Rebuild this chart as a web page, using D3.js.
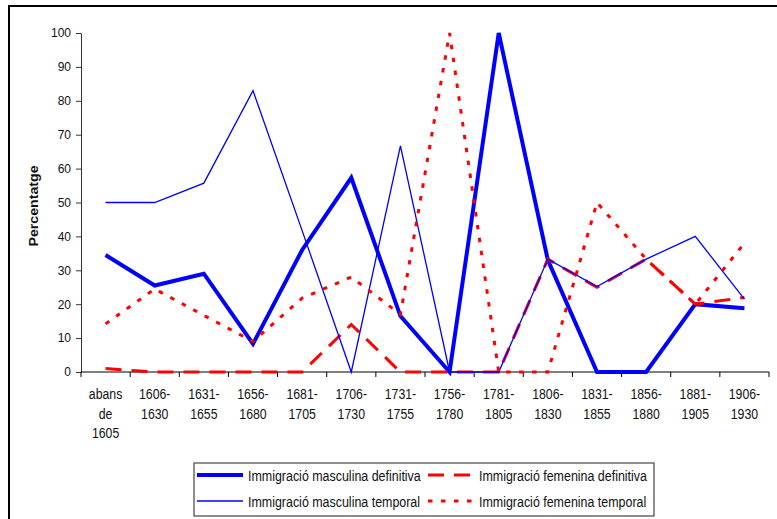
<!DOCTYPE html>
<html>
<head>
<meta charset="utf-8">
<script src="https://cdn.jsdelivr.net/npm/d3@7"></script>
<style>
	body { margin: 0; background: #fff; }
	svg { display: block; font-family: "Liberation Sans", Arial, sans-serif; }
</style>
</head>
<body>
<svg id="chart" width="777" height="519"></svg>
<script>
"use strict";

// periods on the x axis (lines of each label)
var periods = [
	["abans", "de", "1605"], ["1606-", "1630"], ["1631-", "1655"], ["1656-", "1680"],
	["1681-", "1705"], ["1706-", "1730"], ["1731-", "1755"], ["1756-", "1780"],
	["1781-", "1805"], ["1806-", "1830"], ["1831-", "1855"], ["1856-", "1880"],
	["1881-", "1905"], ["1906-", "1930"]
];

var mascDefinitiva = [34.5, 25.5, 29, 8.3, 36, 57.3, 16.5, 0, 100, 33, 0, 0, 20, 18.8];
var femDefinitiva  = [1, 0, 0, 0, 0, 14, 0, 0, 0, 33.3, 25, 33.3, 20, 22];
var mascTemporal   = [50, 50, 55.7, 83, 41.7, 0, 66.7, 0, 0, 33.3, 25.2, 33.3, 40, 21.5];
var femTemporal    = [14.2, 24.5, 16.7, 9, 21.8, 28, 17, 100, 0, 0, 50, 33.3, 20, 38];

var yTicks = [0, 10, 20, 30, 40, 50, 60, 70, 80, 90, 100];

var seriesNames = [
	"Immigració masculina definitiva", "Immigració femenina definitiva",
	"Immigració masculina temporal", "Immigració femenina temporal"
];

// style of each series
var series = [
	{name: seriesNames[0], values: mascDefinitiva, color: "#0000FF", width: 4, dash: null},
	{name: seriesNames[1], values: femDefinitiva, color: "#FF0000", width: 3, dash: "16,10"},
	{name: seriesNames[2], values: mascTemporal, color: "#0000FF", width: 1.3, dash: null},
	{name: seriesNames[3], values: femTemporal, color: "#FF0000", width: 3, dash: "4.5,8.5"}
];

var svg = d3.select("#chart");

// outer chart frame
svg.append("rect")
	.attr("x", 9).attr("y", 6)
	.attr("width", 800).attr("height", 600)
	.attr("fill", "none").attr("stroke", "#000").attr("stroke-width", 2);

var x = d3.scaleBand()
	.domain(d3.range(periods.length))
	.range([81, 769])
	.padding(0);

var y = d3.scaleLinear()
	.domain([0, 100])
	.range([372, 33]);

/////////////////////////////////
// y axis
var yAxis = svg.append("g")
	.attr("transform", "translate(81,0)")
	.call(d3.axisLeft(y).tickValues(yTicks).tickSize(5).tickSizeOuter(0));
yAxis.select(".domain").attr("stroke", "#333");
yAxis.selectAll(".tick line").attr("stroke", "#333");
yAxis.selectAll(".tick text")
	.attr("font-size", 12)
	.attr("fill", "#111")
	.attr("x", -10);

svg.append("text")
	.attr("transform", "translate(38,206) rotate(-90) scale(1.18,1)")
	.attr("text-anchor", "middle")
	.attr("font-size", 12)
	.attr("font-weight", "bold")
	.attr("fill", "#111")
	.text("Percentatge");

/////////////////////////////////
// x axis: ticks on the band edges
var xAxis = svg.append("g").attr("class", "x_axis");
xAxis.append("line")
	.attr("x1", x.range()[0]).attr("x2", x.range()[1])
	.attr("y1", y(0)).attr("y2", y(0))
	.attr("stroke", "#000");

var edges = d3.range(periods.length + 1);
xAxis.selectAll(".xtick")
	.data(edges)
	.enter().append("line")
	.attr("class", "xtick")
	.attr("x1", function(d){ return x(0) + d * x.step(); })
	.attr("x2", function(d){ return x(0) + d * x.step(); })
	.attr("y1", y(0)).attr("y2", y(0) + 5)
	.attr("stroke", "#000");

var xLabels = xAxis.selectAll(".xlabel")
	.data(periods)
	.enter().append("g")
	.attr("class", "xlabel")
	.attr("transform", function(d, i){ return "translate(" + (x(i) + x.bandwidth()/2) + ",0)"; });

xLabels.selectAll("text")
	.data(function(d){ return d; })
	.enter().append("text")
	.attr("transform", function(d, j){ return "translate(0," + (399 + j * 19.5) + ") scale(0.82,1)"; })
	.attr("text-anchor", "middle")
	.attr("font-size", 15)
	.attr("fill", "#111")
	.text(function(d){ return d; });

/////////////////////////////////
// the lines
var line = d3.line()
	.x(function(d, i){ return x(i) + x.bandwidth()/2; })
	.y(function(d){ return y(d); });

svg.selectAll(".serie")
	.data(series)
	.enter().append("path")
	.attr("class", "serie")
	.attr("d", function(d){ return line(d.values); })
	.attr("fill", "none")
	.attr("stroke", function(d){ return d.color; })
	.attr("stroke-width", function(d){ return d.width; })
	.attr("stroke-dasharray", function(d){ return d.dash; })
	.attr("stroke-linejoin", "miter");

/////////////////////////////////
// legend
var legend = svg.append("g").attr("class", "legend");
legend.append("rect")
	.attr("x", 194).attr("y", 463)
	.attr("width", 460).attr("height", 53)
	.attr("fill", "#fff")
	.attr("stroke", "#444").attr("stroke-width", 1.2);

var legendPos = [
	{x: 197, y: 475}, {x: 428, y: 475},
	{x: 197, y: 501}, {x: 428, y: 501}
];

var items = legend.selectAll(".item")
	.data(series)
	.enter().append("g")
	.attr("class", "item")
	.attr("transform", function(d, i){ return "translate(" + legendPos[i].x + "," + legendPos[i].y + ")"; });

items.append("line")
	.attr("x1", 0).attr("x2", 46)
	.attr("y1", 0).attr("y2", 0)
	.attr("stroke", function(d){ return d.color; })
	.attr("stroke-width", function(d){ return d.width; })
	.attr("stroke-dasharray", function(d){ return d.dash; });

items.append("text")
	.attr("transform", "translate(51,5.5) scale(0.83,1)")
	.attr("font-size", 15)
	.attr("fill", "#111")
	.text(function(d){ return d.name; });
</script>
</body>
</html>
